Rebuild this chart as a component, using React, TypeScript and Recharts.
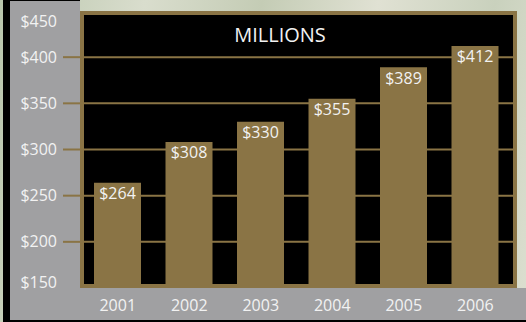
import React from 'react';
import { BarChart, Bar, XAxis, YAxis, CartesianGrid, LabelList } from 'recharts';

const years = ['2001', '2002', '2003', '2004', '2005', '2006'];
const revenue = [264, 308, 330, 355, 389, 412];
const yTicks = [150, 200, 250, 300, 350, 400, 450];
const gridValues = [200, 250, 300, 350, 400];

const BROWN = '#8a7445';
const GRAY = '#a0a0a2';
const TEXT = '#f2f2f2';
const FONT = '"Open Sans", sans-serif';

const data = years.map((year, i) => ({ year, value: revenue[i] }));

// y labels sit next to short brown ticks; the end labels are nudged inside
const YTick = (props: any) => {
  const { x, y, payload } = props;
  const v = payload.value;
  let shift = 0;
  if (v === 450) shift = 10;
  if (v === 150) shift = -6;
  const hasLine = v !== 150 && v !== 450;
  return (
    <g>
      {hasLine && <line x1={x - 17} x2={x} y1={y} y2={y} stroke={BROWN} strokeWidth={2} />}
      <text x={x - 23} y={y + shift} dy="0.35em" textAnchor="end" fill={TEXT} fontSize={16} fontFamily={FONT}>
        ${v}
      </text>
    </g>
  );
};

const box = (left: number, top: number, width: number, height: number, background: string): React.CSSProperties => ({
  position: 'absolute',
  left,
  top,
  width,
  height,
  background,
});

export default function App() {
  return (
    <div
      style={{
        position: 'absolute',
        left: 0,
        top: 0,
        width: 526,
        height: 322,
        overflow: 'hidden',
        background: 'linear-gradient(100deg, #b9c6ac 0%, #d9ddcd 25%, #c4ccb5 45%, #e0e1d3 65%, #c9d1bd 85%, #dcdfd0 100%)',
      }}
    >
      {/* dark border and gray panels */}
      <div style={box(3, 0, 7, 322, '#000')} />
      <div style={box(10, 0, 70, 1, '#000')} />
      <div style={box(3, 320, 523, 2, '#000')} />
      <div style={box(10, 1, 70, 319, GRAY)} />
      <div style={box(10, 288, 516, 32, GRAY)} />
      {/* plot frame */}
      <div style={box(80, 11, 437, 277, BROWN)} />
      <div style={box(84, 15, 429, 269, '#000')} />

      <div style={{ position: 'absolute', left: 0, top: 0 }}>
        <BarChart width={526} height={322} data={data} margin={{ top: 11, right: 9, bottom: 0, left: 10 }}>
          <CartesianGrid vertical={false} horizontalValues={gridValues} stroke={BROWN} strokeWidth={2} />
          <XAxis
            dataKey="year"
            height={34}
            axisLine={false}
            tickLine={false}
            tickSize={0}
            tickMargin={12}
            padding={{ left: 2, right: 6 }}
            tick={{ fill: TEXT, fontSize: 16, fontFamily: FONT }}
          />
          <YAxis
            type="number"
            width={70}
            domain={[150, 450]}
            ticks={yTicks}
            axisLine={false}
            tickLine={false}
            tickSize={0}
            tickMargin={0}
            allowDataOverflow
            tick={<YTick />}
          />
          <Bar dataKey="value" fill={BROWN} barSize={47} isAnimationActive={false}>
            <LabelList
              dataKey="value"
              position="insideTop"
              offset={5}
              formatter={(v: any) => `$${v}`}
              fill={TEXT}
              fontSize={16}
              fontFamily={FONT}
            />
          </Bar>
        </BarChart>
      </div>

      <div
        style={{
          position: 'absolute',
          left: 180,
          width: 200,
          top: 25,
          textAlign: 'center',
          color: TEXT,
          fontFamily: FONT,
          fontSize: 20,
          lineHeight: '20px',
        }}
      >
        MILLIONS
      </div>
    </div>
  );
}
